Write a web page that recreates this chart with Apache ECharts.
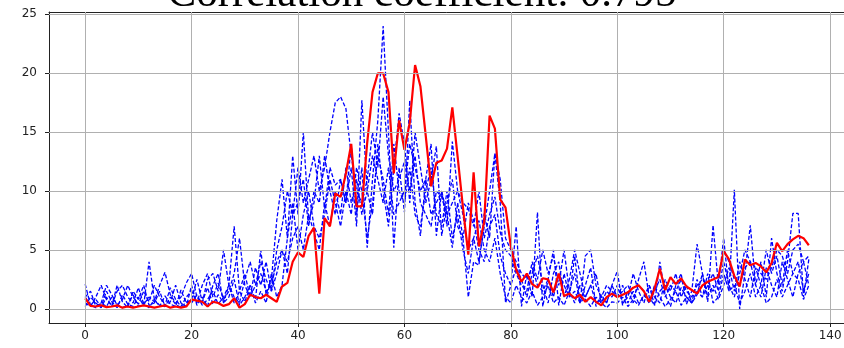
<!DOCTYPE html>
<html>
<head>
<meta charset="utf-8">
<script src="https://cdn.jsdelivr.net/npm/echarts@6/dist/echarts.min.js"></script>
<style>
html,body{margin:0;padding:0;background:#fff;}
#chart{width:844px;height:348px;}
</style>
</head>
<body>
<div id="chart"></div>
<script>
const titleText = "Correlation coefficient: 0.795";
const xTicks = [0, 20, 40, 60, 80, 100, 120, 140];
const yTicks = [0, 5, 10, 15, 20, 25];

const redValues = [
 0.9,0.25,0.2,0.3,0.15,0.2,0.3,0.1,0.2,0.1,0.2,0.3,0.2,0.1,0.2,0.3,0.1,0.2,0.1,0.2,
 0.8,0.7,0.6,0.2,0.6,0.5,0.25,0.4,0.9,0.1,0.4,1.2,1.0,0.9,1.2,0.9,0.6,1.9,2.2,4.0,
 4.8,4.4,6.2,6.9,1.3,7.7,7.0,9.8,9.5,11.5,14.0,8.7,8.7,14.1,18.4,20.0,20.0,18.4,11.5,16.0,
 13.5,15.8,20.7,18.9,14.7,10.4,12.4,12.6,13.6,17.1,12.9,8.6,4.6,11.6,5.3,7.4,16.4,15.3,9.3,8.6,
 5.3,3.3,2.3,3.0,2.1,1.8,2.6,2.5,1.4,3.0,1.1,1.3,0.9,1.2,0.6,1.0,0.6,0.3,1.0,1.3,
 1.0,1.2,1.4,1.8,2.0,1.5,0.6,1.7,3.4,1.6,2.7,2.1,2.6,1.9,1.6,1.3,2.0,2.3,2.5,2.7,
 4.9,4.2,2.8,1.9,4.2,3.7,3.9,3.6,3.1,3.9,5.6,4.9,5.5,5.9,6.2,6.0,5.4
];

const blue1 = [
 2.1,0.3,0.8,0.2,1.5,0.6,0.1,1.2,0.4,0.2,1.0,0.3,4.0,0.8,0.2,1.1,0.4,0.2,1.6,0.5,
 0.8,2.5,0.6,1.8,0.4,1.2,0.5,2.0,7.0,1.5,0.6,1.9,0.8,5.0,1.2,2.5,7.5,11.0,6.0,13.0,
 8.0,15.0,7.5,9.0,13.0,8.5,12.0,10.5,11.0,9.0,14.0,8.0,12.0,5.2,11.0,16.0,24.0,15.0,5.2,12.0,
 8.2,17.7,9.0,6.2,11.0,14.0,6.2,10.0,8.0,5.2,9.0,6.0,1.0,4.0,3.7,8.1,6.0,13.2,9.0,0.5,
 2.0,7.0,0.2,3.0,1.0,8.2,0.2,2.5,5.0,0.3,3.0,1.0,4.5,0.5,2.0,3.5,0.2,1.2,0.5,2.0,
 3.2,0.3,1.5,0.5,2.5,4.0,1.0,0.3,4.0,1.2,0.2,2.0,3.0,0.4,1.5,5.5,3.0,0.6,7.1,2.0,
 6.0,1.5,10.1,0.0,3.0,7.1,2.0,4.0,1.0,6.0,3.0,1.5,4.0,8.1,8.1,1.0,4.2
];
const blue2 = [
 1.0,1.5,0.2,0.5,2.0,1.2,0.3,0.8,2.0,1.0,0.4,1.5,0.6,2.0,1.0,0.3,1.8,0.8,0.2,1.0,
 1.5,0.5,2.0,3.0,1.0,2.2,0.8,1.5,3.0,6.0,2.0,1.0,3.5,2.0,4.0,1.5,5.0,7.0,10.0,8.0,
 12.0,9.0,11.0,13.0,10.0,12.0,15.0,17.5,18.0,17.0,13.0,10.0,9.0,11.0,15.0,12.0,18.0,13.0,10.0,11.0,
 12.5,10.0,13.0,9.0,8.0,7.0,10.0,9.5,8.0,9.0,10.0,9.0,8.5,7.0,10.0,6.0,8.0,9.5,6.5,5.0,
 4.5,3.0,2.0,1.5,4.0,2.5,5.0,3.0,4.5,2.0,5.0,1.5,3.0,0.5,4.5,5.0,2.0,1.0,0.5,2.0,
 1.0,2.0,0.5,1.5,0.5,1.0,2.0,0.3,1.5,2.0,1.0,0.5,1.8,1.0,0.5,1.2,3.0,1.0,2.0,0.8,
 2.0,3.5,1.5,4.0,2.5,1.0,3.5,2.0,5.0,3.0,4.5,2.0,5.0,3.0,4.0,1.5,3.0
];
const blue3 = [
 0.5,0.2,1.0,2.0,0.8,0.3,1.5,2.0,1.0,0.5,1.8,0.4,1.0,0.6,2.0,3.1,1.2,0.5,1.0,2.2,
 3.0,1.0,0.5,2.5,3.0,1.5,5.0,2.0,1.0,0.5,2.5,4.0,2.0,3.0,1.5,2.0,4.0,5.0,3.0,8.0,
 9.0,11.0,7.0,10.0,9.0,13.0,10.0,8.0,11.0,9.0,12.0,7.0,17.7,10.0,8.0,14.0,10.0,7.0,12.0,16.6,
 14.0,9.0,15.0,12.0,9.0,11.0,13.8,6.2,9.0,11.0,7.0,6.0,9.0,7.5,5.0,4.0,7.0,8.0,4.5,3.0,
 2.0,3.5,2.5,1.0,3.0,4.5,2.0,0.5,3.0,4.0,1.0,2.5,5.0,3.0,1.0,2.0,3.0,0.5,1.5,1.0,
 2.0,0.5,1.0,3.0,1.5,0.5,2.0,1.0,0.5,2.5,1.5,3.0,1.0,2.0,0.5,1.5,1.0,2.0,3.0,1.5,
 4.0,2.0,1.0,3.0,5.0,4.0,2.0,1.0,3.5,2.0,1.0,4.0,2.5,1.0,3.0,4.0,2.0
];
const blue4 = [
 1.0,0.3,0.1,0.5,0.2,1.0,0.4,0.1,0.3,1.2,0.2,0.5,0.1,0.8,0.3,0.2,1.0,0.4,0.1,0.6,
 0.5,1.2,0.3,0.8,1.5,0.4,1.0,2.0,0.5,1.5,3.0,1.0,2.0,4.0,2.5,1.5,3.0,5.0,4.0,6.0,
 7.0,5.0,8.0,6.5,5.0,9.0,7.0,10.0,8.0,12.0,9.0,11.0,8.0,10.0,13.0,11.0,9.0,12.0,8.0,9.0,
 10.0,14.0,12.0,10.0,11.0,8.0,9.0,10.0,7.0,14.2,10.0,8.0,5.0,6.0,4.0,7.0,10.0,13.2,11.0,6.0,
 5.0,4.0,3.0,2.5,3.5,2.0,1.5,2.5,1.0,3.0,2.0,1.0,1.5,0.5,1.0,2.0,0.5,1.0,2.0,1.5,
 1.0,1.5,2.0,1.0,2.0,1.5,0.5,1.5,2.5,1.0,2.0,1.5,2.5,1.5,1.0,2.0,2.5,2.0,1.5,2.5,
 5.0,4.0,2.5,2.0,3.5,4.0,3.5,3.0,2.5,3.5,5.0,4.5,3.0,5.0,5.5,4.0,4.5
];
const blue5 = [
 0.2,1.0,0.5,0.1,1.0,0.2,2.0,0.6,0.1,1.5,0.8,2.0,0.3,0.5,1.5,0.2,0.6,2.0,0.5,0.2,
 2.0,0.3,1.0,0.2,2.0,3.0,0.5,1.0,2.5,0.3,1.0,2.0,0.5,1.5,0.5,3.0,1.0,2.0,6.0,9.0,
 5.0,8.0,10.0,7.0,6.0,8.0,11.0,9.0,7.0,10.0,8.0,12.0,10.0,6.0,9.0,13.0,11.0,8.0,14.0,10.0,
 9.0,12.0,8.0,7.0,10.0,12.0,8.0,7.0,10.0,6.0,8.0,5.0,3.0,6.0,7.5,5.0,4.0,6.0,3.0,1.0,
 0.5,2.0,1.0,0.5,1.5,0.3,1.0,2.0,0.5,1.0,0.3,1.5,0.5,2.0,0.8,0.2,1.0,0.5,0.1,0.6,
 0.5,1.0,0.2,0.8,0.3,1.2,0.5,2.0,1.0,0.2,0.8,1.5,0.3,1.0,0.5,2.5,1.0,3.0,0.5,1.0,
 3.0,1.5,2.0,0.5,1.5,3.0,1.0,2.0,0.5,1.0,2.5,1.0,2.0,3.0,2.5,0.8,2.0
];
const blueSeries = [blue1, blue2, blue3, blue4, blue5];

const pairs = arr => arr.map((v, i) => [i, v]);

const chart = echarts.init(document.getElementById('chart'), null, {renderer: 'canvas'});

const gridLineStyle = {color: '#b0b0b0', width: 1, type: 'solid'};

const series = [];
series.push({
  type: 'line', data: [], z: 1, silent: true,
  markLine: {
    silent: true, symbol: 'none', animation: false,
    label: {show: false},
    lineStyle: gridLineStyle,
    data: xTicks.map(t => ({xAxis: t})).concat(yTicks.map(t => ({yAxis: t})))
  }
});
blueSeries.forEach(arr => {
  series.push({
    type: 'line', data: pairs(arr), symbol: 'none', z: 3,
    lineStyle: {color: '#0000ff', width: 1.3, type: [4, 2]},
    animation: false
  });
});
series.push({
  type: 'line', data: pairs(redValues), symbol: 'none', z: 4,
  lineStyle: {color: '#ff0000', width: 2.2},
  animation: false
});

const axisLineStyle = {color: '#222', width: 1};
const X_MIN = -6.8, X_MAX = 143.55;

chart.setOption({
  animation: false,
  backgroundColor: '#ffffff',
  grid: {left: 49, top: 12, width: 800, height: 311, show: false, outerBoundsMode: 'none', containLabel: false},
  xAxis: [{
    type: 'value', min: X_MIN, max: X_MAX, position: 'bottom',
    axisLine: {show: true, onZero: false, lineStyle: axisLineStyle},
    axisTick: {show: true, length: 4, customValues: xTicks, lineStyle: {color: '#222'}},
    axisLabel: {customValues: xTicks, margin: 7, fontFamily: 'DejaVu Sans', fontSize: 12, color: '#222'},
    splitLine: {show: false}
  }, {
    type: 'value', min: X_MIN, max: X_MAX, position: 'top',
    axisLine: {show: true, onZero: false, lineStyle: axisLineStyle},
    axisTick: {show: false}, axisLabel: {show: false}, splitLine: {show: false}
  }],
  yAxis: {
    type: 'value', min: -1.2, max: 25.2,
    axisLine: {show: true, onZero: false, lineStyle: axisLineStyle},
    axisTick: {show: true, length: 4, customValues: yTicks, lineStyle: {color: '#222'}},
    axisLabel: {customValues: yTicks, margin: 12, fontFamily: 'DejaVu Sans', fontSize: 12, color: '#222'},
    splitLine: {show: false}
  },
  graphic: [{
    type: 'text', left: 'center', z: 10,
    style: {text: titleText, x: 0, y: 0, font: 'normal 43px "Liberation Serif", "Times New Roman", serif', fill: '#000'},
    top: -27
  }],
  series: series
});
</script>
</body>
</html>
